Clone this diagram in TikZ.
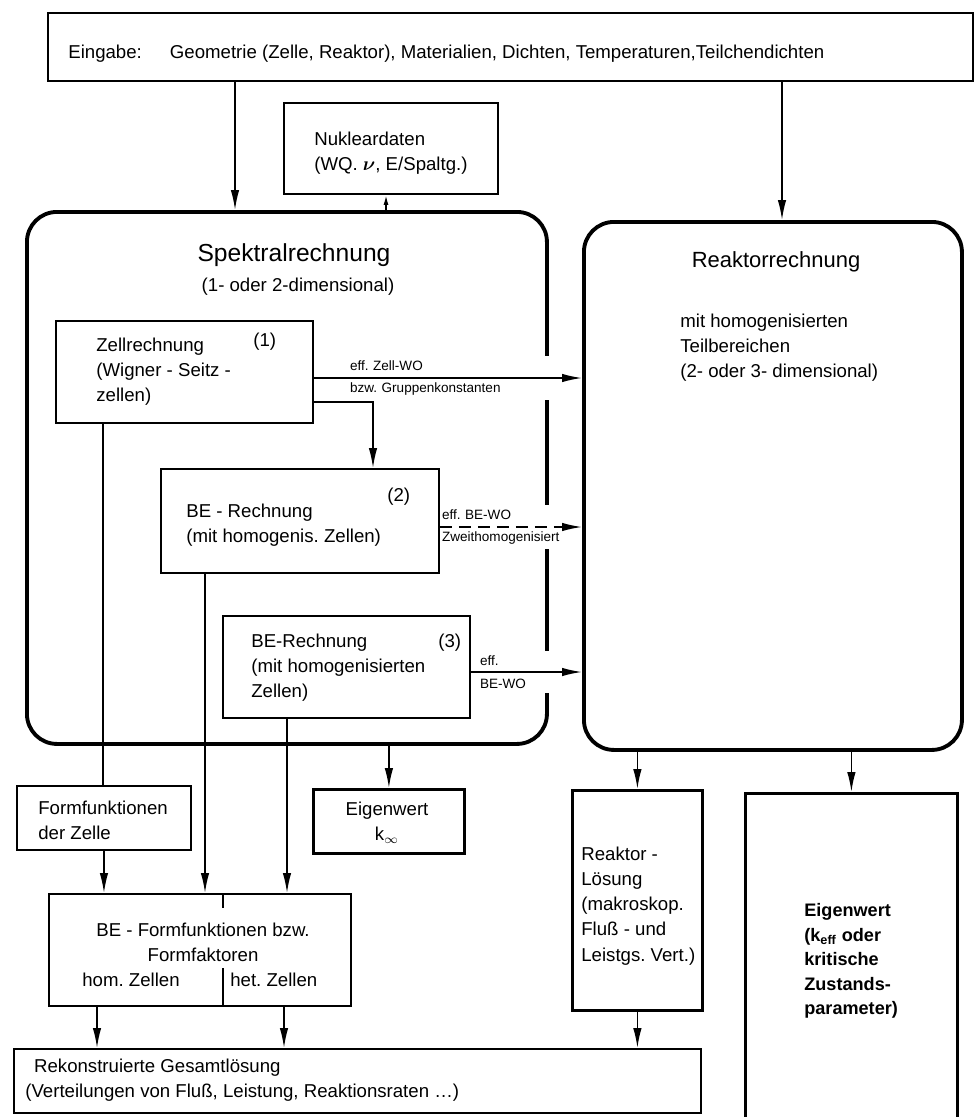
\documentclass[tikz,border=0pt]{standalone}
\usepackage{amsmath}
\usepackage{fontspec}
\setmainfont{Liberation Sans}
\usetikzlibrary{arrows.meta,positioning}
\frenchspacing

\tikzset{
	box/.style = {draw, line width = 1.1pt, inner sep = 0pt},
	heavybox/.style = {box, line width = 1.6pt},
	bigbox/.style = {draw, line width = 2.2pt, rounded corners = 6mm, inner sep = 0pt},
	boxsize/.style 2 args = {minimum width = #1*0.2mm, minimum height = #2*0.2mm},
	txt/.style = {inner sep = 0pt, align = left, font = \fontsize{10.6}{14.3}\selectfont},
	lbl/.style = {fill = white, inner xsep = 1pt, inner ysep = 2.5pt, align = left, font = \fontsize{7.7}{13}\selectfont},
	con/.style = {line width = 0.9pt},
	arr/.style = {con, -{Latex[length = 4mm, width = 1.7mm]}},
	smallarr/.style = {con, -{Latex[length = 2mm, width = 1mm]}}
}

\begin{document}
\begin{tikzpicture}[x = 0.2mm, y = -0.2mm]
	\useasboundingbox (0,0) rectangle (975,1117);
	
	% Eingabe und Nukleardaten
	\node[box, boxsize = {925}{68}, anchor = north west] (ein) at (47,12) {};
	\node[txt, anchor = west] (eintxt) at (68,54) {Eingabe:\hspace{16pt}Geometrie (Zelle, Reaktor), Materialien, Dichten, Temperaturen,Teilchendichten};
	\node[box, boxsize = {214}{91}, anchor = north west] (nuk) at (283,102) {};
	\node[txt, anchor = west] (nuktxt) at (314,153) {Nukleardaten\\(WQ. $\boldsymbol{\nu}$, E/Spaltg.)};
	
	% Spektral- und Reaktorrechnung
	\node[bigbox, boxsize = {520}{532}, anchor = north west] (spek) at (25,210) {};
	\node[inner sep = 0pt, font = \fontsize{14}{16}\selectfont] (spektitle) at (294,255) {Spektralrechnung};
	\node[txt] (spekdim) at (298,287) {(1- oder 2-dimensional)};
	
	\node[bigbox, boxsize = {378}{528}, anchor = north west] (reak) at (582,220) {};
	\node[inner sep = 0pt, font = \fontsize{12.5}{15}\selectfont] (reaktitle) at (776,262) {Reaktorrechnung};
	\node[txt, anchor = west] (reaktxt) at (680,348) {mit homogenisierten\\Teilbereichen\\(2- oder 3- dimensional)};
	
	% Beschriftungen der Pfeile (decken den Rand ab)
	\node[lbl, anchor = west, text width = 40mm] (lzell) at (348,378) {eff. Zell-WO\\bzw. Gruppenkonstanten};
	\node[lbl, anchor = west, text width = 24mm] (lbe2) at (440,527) {eff. BE-WO\\Zweithomogenisiert};
	\node[lbl, anchor = west, text width = 14mm] (lbe3) at (478,672) {eff.\\BE-WO};
	
	% Zell- und BE-Rechnung
	\node[box, boxsize = {257}{102}, anchor = north west] (zell) at (55,320) {};
	\node[txt, anchor = west] (zelltxt) at (96,372) {Zellrechnung\\(Wigner - Seitz -\\zellen)};
	\node[txt, anchor = west] (zellnr) at (253,342) {(1)};
	
	\node[box, boxsize = {278}{104}, anchor = north west] (be2) at (160,468) {};
	\node[txt, anchor = west] (be2txt) at (186,525) {BE - Rechnung\\(mit homogenis. Zellen)};
	\node[txt, anchor = west] (be2nr) at (387,497) {(2)};
	
	\node[box, boxsize = {247}{102}, anchor = north west] (be3) at (222,615) {};
	\node[txt, anchor = west] (be3txt) at (251,668) {BE-Rechnung\\(mit homogenisierten\\Zellen)};
	\node[txt, anchor = west] (be3nr) at (438,643) {(3)};
	
	% Ergebnisse
	\node[box, boxsize = {174}{64}, anchor = north west] (form) at (16,785) {};
	\node[txt, anchor = west] (formtxt) at (38,820) {Formfunktionen\\der Zelle};
	
	\node[heavybox, boxsize = {151}{64}, anchor = north west] (eig) at (312,788) {};
	\node[txt, align = center] (eigtxt) at (387,823) {Eigenwert\\k$_\infty$};
	
	\node[box, boxsize = {302}{112}, anchor = north west] (bef) at (48,893) {};
	\node[txt, align = center] (beftxt) at (203,942) {BE - Formfunktionen bzw.\\Formfaktoren};
	\node[txt, anchor = west] (befhom) at (82,980) {hom. Zellen};
	\node[txt, anchor = west] (befhet) at (230,980) {het. Zellen};
	\draw[con] (bef.north -| 223,0) -- (223,908);
	\draw[con] (223,968) -- (bef.south -| 223,0);
	
	\node[box, boxsize = {687}{64}, anchor = north west] (rek) at (13,1048) {};
	\node[txt, anchor = west] (rektxt) at (25,1080) {\hspace{5pt}Rekonstruierte Gesamtlösung\\(Verteilungen von Fluß, Leistung, Reaktionsraten \dots)};
	
	\node[heavybox, boxsize = {130}{220}, anchor = north west] (rl) at (571,789) {};
	\node[txt, anchor = west] (rltxt) at (581,906) {Reaktor -\\Lösung\\(makroskop.\\Fluß - und\\Leistgs. Vert.)};
	
	\node[heavybox, boxsize = {212}{340}, anchor = north west] (e2) at (744,792) {};
	\node[txt, anchor = west, font = \fontsize{10.3}{14}\selectfont\bfseries] (e2txt) at (804,961) {Eigenwert\\(k\textsubscript{eff} oder\\kritische\\Zustands-\\parameter)};
	
	% Verbindungen
	\draw[arr] (ein.south -| 235,0) -- (spek.north -| 235,0);
	\draw[arr] (ein.south -| 782,0) -- (reak.north -| 782,0);
	\draw[smallarr] (spek.north -| 386,0) -- (nuk.south -| 386,0);
	
	\draw[arr] (zell.east |- 0,378) -- (reak.west |- 0,378);
	\draw[arr] (zell.east |- 0,402) -| (be2.north -| 373,0);
	\draw[arr, dash pattern = on 2.4mm off 1.4mm] (be2.east |- 0,527) -- (reak.west |- 0,527);
	\draw[arr] (be3.east |- 0,672) -- (reak.west |- 0,672);
	
	\draw[con] (zell.south -| 103,0) -- (form.north -| 103,0);
	\draw[arr] (be2.south -| 205,0) -- (bef.north -| 205,0);
	\draw[arr] (be3.south -| 287,0) -- (bef.north -| 287,0);
	\draw[arr] (spek.south -| eig.north) -- (eig.north);
	\draw[arr] (form.south) -- (form.south |- bef.north);
	\draw[arr] (bef.south -| 97,0) -- (rek.north -| 97,0);
	\draw[arr] (bef.south -| 284,0) -- (rek.north -| 284,0);
	
	\draw[arr] (reak.south -| rl.north) -- (rl.north);
	\draw[arr] (reak.south -| e2.north) -- (e2.north);
	\draw[arr] (rl.south) -- (rl.south |- rek.north);
\end{tikzpicture}
\end{document}
